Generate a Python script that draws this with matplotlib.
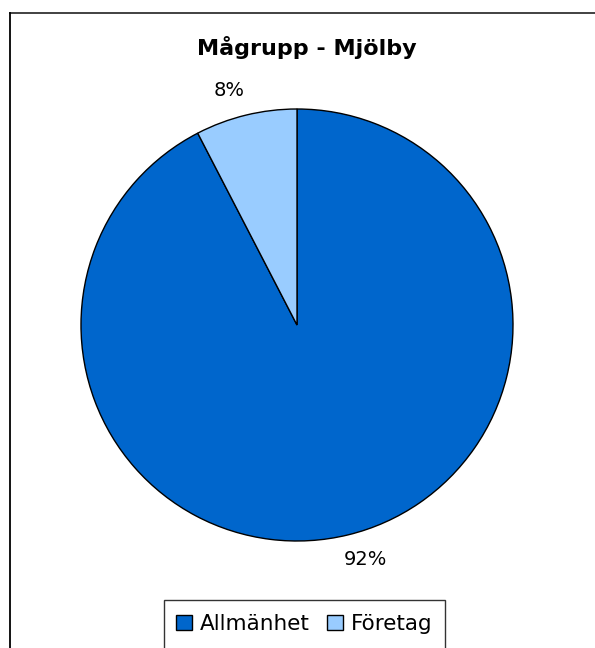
import numpy as np
import matplotlib.pyplot as plt
from matplotlib.patches import Patch, Rectangle
from matplotlib.lines import Line2D

categories = ['Allmänhet', 'Företag']
values = [92.4, 7.6]
colors = ['#0066CC', '#99CCFF']

W, H = 595, 648
fig = plt.figure(figsize=(W / 100, H / 100), dpi=100)
fig.patch.set_facecolor('white')

# pie axes: centre (297, 325), radius 216 px
cx, cy, r = 297, 325, 216
ax = fig.add_axes([(cx - r) / W, (H - cy - r) / H, 2 * r / W, 2 * r / H])
wedges, texts, autotexts = ax.pie(values, colors=colors, startangle=90, counterclock=False,
                                  autopct='%1.0f%%', pctdistance=1.13,
                                  wedgeprops=dict(edgecolor='black', linewidth=1.0))
# labels sit a little counter-clockwise of the slice middle in the original
rot = np.deg2rad(2.5)
for t in autotexts:
    x, y = t.get_position()
    t.set_position((x * np.cos(rot) - y * np.sin(rot), x * np.sin(rot) + y * np.cos(rot)))
    t.set_fontsize(14)
    t.set_color('black')
ax.set_xlim(-1, 1)
ax.set_ylim(-1, 1)

fig.text(307 / W, 1 - 55 / H, 'Mågrupp - Mjölby', ha='center', va='baseline',
         fontsize=16, fontweight='bold')

# legend
handles = [Patch(facecolor=c, edgecolor='black', linewidth=1.0) for c in colors]
fig.legend(handles, categories, loc='center', bbox_to_anchor=(304 / W, 1 - 624 / H),
           ncol=2, frameon=False, fontsize=15.5, handlelength=0.75, handleheight=0.75,
           handletextpad=0.35, columnspacing=0.8)
fig.add_artist(Rectangle((164 / W, -0.05), (445 - 164) / W, 0.05 + (H - 600) / H,
                         transform=fig.transFigure, facecolor='none',
                         edgecolor='#333333', linewidth=1.0, clip_on=False))

# outer frame (top and left only)
fig.add_artist(Line2D([9.5 / W, 1], [1 - 12.5 / H, 1 - 12.5 / H], transform=fig.transFigure,
                      color='#333333', linewidth=1.3))
fig.add_artist(Line2D([9.5 / W, 9.5 / W], [0, 1 - 12.5 / H], transform=fig.transFigure,
                      color='black', linewidth=1.3))

fig.savefig('out.png', dpi=100)
